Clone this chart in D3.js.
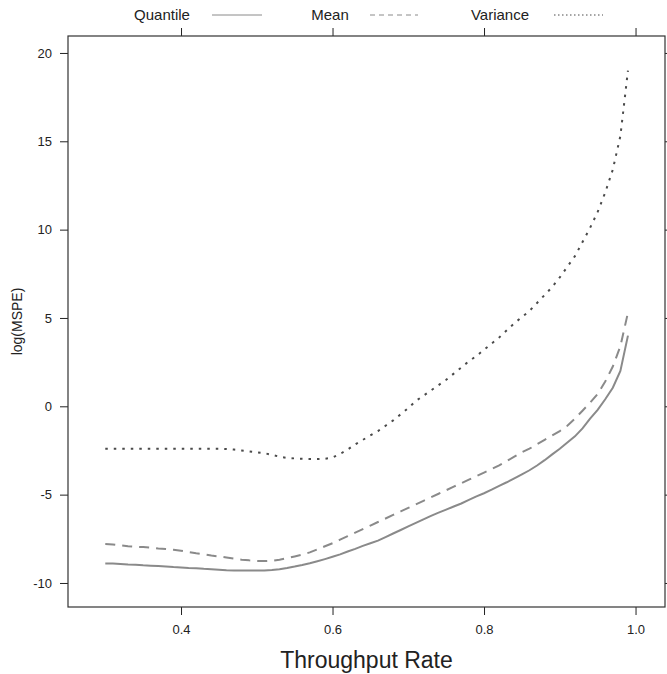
<!DOCTYPE html>
<html>
<head>
<meta charset="utf-8">
<script src="https://cdn.jsdelivr.net/npm/d3@7"></script>
<style>
  body { margin: 0; background: #fff; }
  text { font-family: "Liberation Sans", Arial, sans-serif; fill: #222; }
</style>
</head>
<body>
<div id="chart"></div>
<script>
// throughput rate grid (0.30 .. 0.99)
var rates = d3.range(30, 100).map(function(d) { return d / 100; });

var quantile = [
  -8.90, -8.90, -8.92, -8.95, -8.97, -9.00, -9.02, -9.04, -9.07, -9.10,
  -9.12, -9.15, -9.17, -9.20, -9.22, -9.25, -9.28, -9.30, -9.30, -9.30,
  -9.30, -9.30, -9.27, -9.22, -9.15, -9.07, -8.98, -8.88, -8.77, -8.65,
  -8.52, -8.38, -8.22, -8.07, -7.90, -7.75, -7.60, -7.40, -7.20, -7.00,
  -6.80, -6.60, -6.40, -6.20, -6.02, -5.85, -5.67, -5.50, -5.30, -5.10,
  -4.92, -4.72, -4.50, -4.30, -4.08, -3.85, -3.62, -3.35, -3.05, -2.72,
  -2.40, -2.05, -1.70, -1.25, -0.70, -0.20, 0.40, 1.05, 2.00, 4.00
];

var mean = [
  -7.80, -7.82, -7.87, -7.92, -7.95, -7.97, -8.00, -8.05, -8.08, -8.12,
  -8.17, -8.25, -8.32, -8.38, -8.45, -8.50, -8.56, -8.62, -8.68, -8.72,
  -8.75, -8.76, -8.74, -8.68, -8.60, -8.50, -8.40, -8.27, -8.10, -7.92,
  -7.75, -7.55, -7.35, -7.15, -6.95, -6.75, -6.55, -6.35, -6.15, -5.95,
  -5.75, -5.55, -5.35, -5.15, -4.95, -4.75, -4.55, -4.35, -4.15, -3.95,
  -3.75, -3.55, -3.35, -3.10, -2.85, -2.60, -2.40, -2.15, -1.90, -1.65,
  -1.40, -1.10, -0.70, -0.25, 0.20, 0.70, 1.40, 2.25, 3.40, 5.30
];

var variance = [
  -2.40, -2.40, -2.40, -2.40, -2.40, -2.40, -2.40, -2.40, -2.40, -2.40,
  -2.40, -2.40, -2.40, -2.40, -2.40, -2.40, -2.42, -2.45, -2.50, -2.55,
  -2.60, -2.65, -2.75, -2.85, -2.92, -2.95, -2.97, -2.98, -2.98, -2.97,
  -2.90, -2.70, -2.45, -2.15, -1.90, -1.65, -1.40, -1.10, -0.80, -0.45,
  -0.10, 0.30, 0.60, 0.90, 1.20, 1.50, 1.85, 2.20, 2.55, 2.85,
  3.20, 3.55, 3.90, 4.30, 4.70, 5.05, 5.40, 5.85, 6.30, 6.75,
  7.30, 7.90, 8.50, 9.30, 10.10, 11.00, 12.10, 13.40, 15.30, 19.00
];

var seriesNames = ["Quantile", "Mean", "Variance"];
var xTicks = [0.4, 0.6, 0.8, 1.0];
var xTickLabels = ["0.4", "0.6", "0.8", "1.0"];
var yTicks = [-10, -5, 0, 5, 10, 15, 20];
var yTickLabels = ["-10", "-5", "0", "5", "10", "15", "20"];

var W = 667, H = 674;
var margin = {top: 36, right: 2, bottom: 67, left: 68},
    width = W - margin.left - margin.right,
    height = H - margin.top - margin.bottom;

var x = d3.scaleLinear().domain([0.2508, 1.0389]).range([0, width]);
var y = d3.scaleLinear().domain([-11.36, 20.96]).range([height, 0]);

var svg = d3.select("#chart").append("svg")
  .attr("width", W)
  .attr("height", H);

var g = svg.append("g")
  .attr("transform", "translate(" + margin.left + "," + margin.top + ")");

// line styles: [colour, width, dash in plot, dash in key]
var styles = {
  Quantile: {color: "#8a8a8a", w: 2, dash: null, keyDash: null},
  Mean: {color: "#8a8a8a", w: 2, dash: "10,7", keyDash: "5,4"},
  Variance: {color: "#4a4a4a", w: 2, dash: "2.5,6", keyDash: "1.5,2.5"}
};
var values = {Quantile: quantile, Mean: mean, Variance: variance};

// axes
function styleAxis(sel) {
  sel.select(".domain").remove();
  sel.selectAll(".tick line").attr("stroke", "#222");
  sel.selectAll(".tick text").style("font-size", "13px").attr("fill", "#333");
}

g.append("g")
  .attr("transform", "translate(0," + height + ")")
  .call(d3.axisBottom(x).tickValues(xTicks)
    .tickFormat(function(d, i) { return xTickLabels[i]; })
    .tickSize(8).tickPadding(10))
  .call(styleAxis);

g.append("g")
  .call(d3.axisTop(x).tickValues(xTicks).tickFormat("").tickSize(8))
  .call(styleAxis);

g.append("g")
  .call(d3.axisLeft(y).tickValues(yTicks)
    .tickFormat(function(d, i) { return yTickLabels[i]; })
    .tickSize(8).tickPadding(8))
  .call(styleAxis);

g.append("g")
  .attr("transform", "translate(" + width + ",0)")
  .call(d3.axisRight(y).tickValues(yTicks).tickFormat("").tickSize(8))
  .call(styleAxis);

// panel frame
g.append("rect")
  .attr("x", 0).attr("y", 0)
  .attr("width", width).attr("height", height)
  .attr("fill", "none")
  .attr("stroke", "#333")
  .attr("stroke-width", 1.2);

// lines
var line = d3.line()
  .x(function(d, i) { return x(rates[i]); })
  .y(function(d) { return y(d); });

seriesNames.forEach(function(name) {
  var s = styles[name];
  g.append("path")
    .datum(values[name])
    .attr("fill", "none")
    .attr("stroke", s.color)
    .attr("stroke-width", s.w)
    .attr("stroke-dasharray", s.dash)
    .attr("d", line);
});

// key at top
var keyPos = [
  {text: 162, x1: 212, x2: 262},
  {text: 330, x1: 370, x2: 418},
  {text: 500, x1: 554, x2: 603}
];
seriesNames.forEach(function(name, i) {
  var s = styles[name], k = keyPos[i];
  svg.append("text")
    .attr("x", k.text).attr("y", 20)
    .attr("text-anchor", "middle")
    .style("font-size", "15px")
    .text(name);
  svg.append("line")
    .attr("x1", k.x1).attr("x2", k.x2)
    .attr("y1", 15).attr("y2", 15)
    .attr("stroke", s.color)
    .attr("stroke-width", 1)
    .attr("stroke-dasharray", s.keyDash);
});

// axis titles
svg.append("text")
  .attr("transform", "translate(22," + (margin.top + height / 2) + ") rotate(-90)")
  .attr("text-anchor", "middle")
  .style("font-size", "14px")
  .text("log(MSPE)");

svg.append("text")
  .attr("x", margin.left + width / 2)
  .attr("y", 668)
  .attr("text-anchor", "middle")
  .style("font-size", "23px")
  .text("Throughput Rate");
</script>
</body>
</html>
